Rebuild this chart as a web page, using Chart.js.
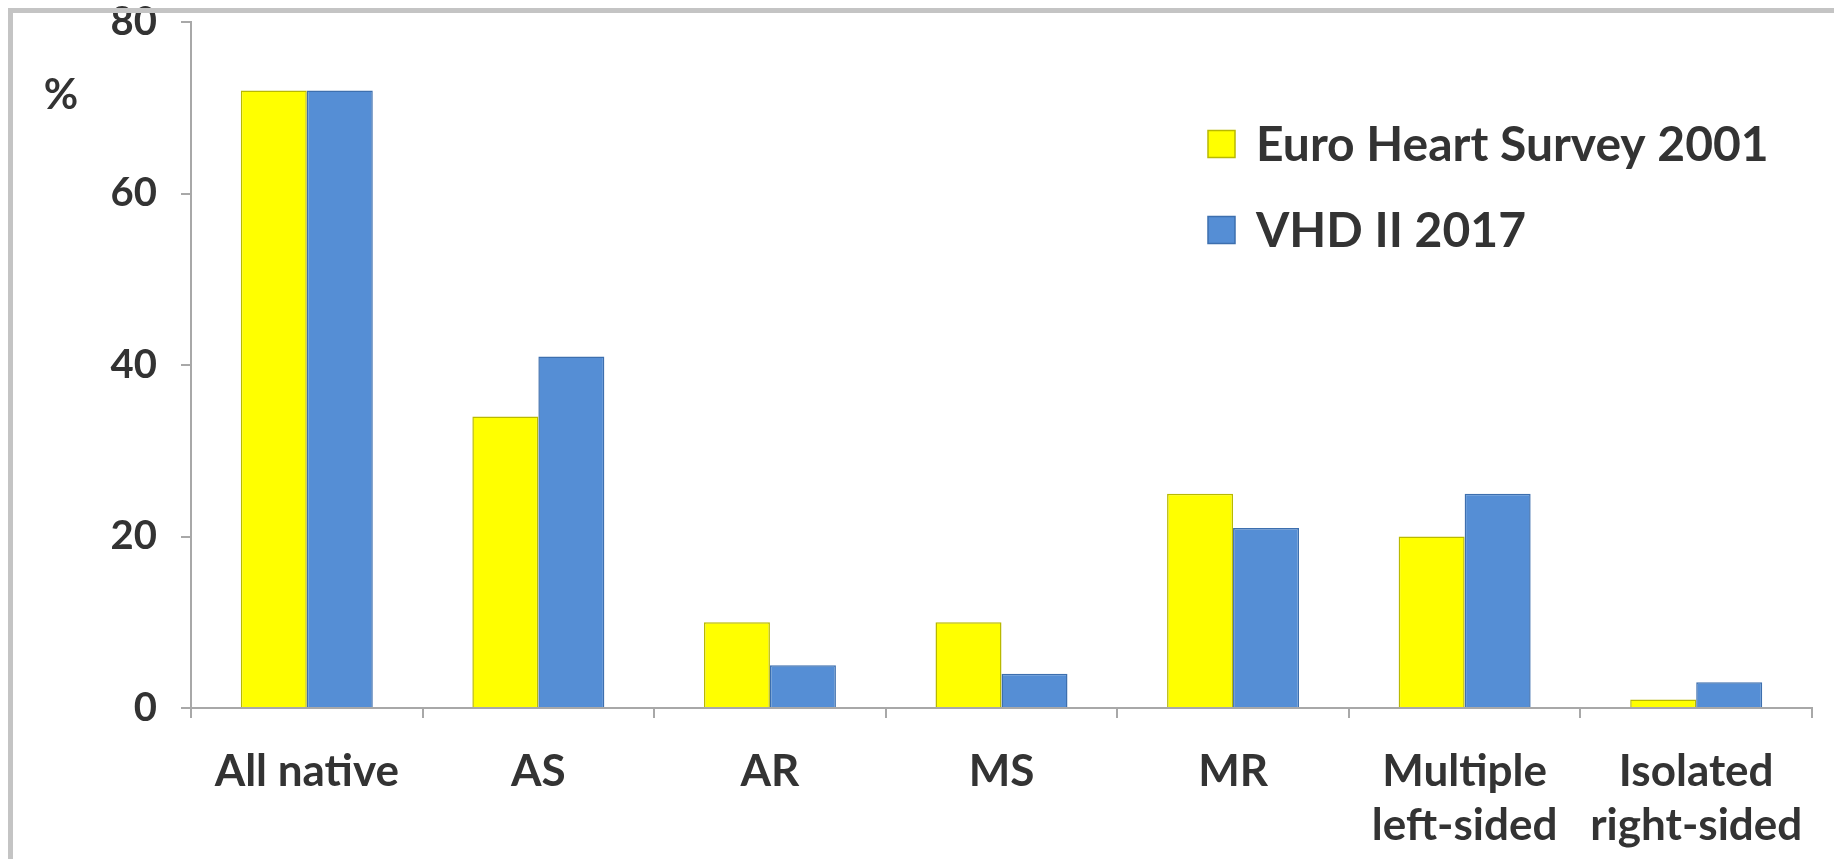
<!DOCTYPE html>
<html lang="en">
<head>
    <meta charset="UTF-8">
    <title>Valve disease distribution</title>
    <script src="https://cdn.jsdelivr.net/npm/chart.js"></script>
    <style>
        html, body { margin: 0; padding: 0; background: #fff; }
        #wrap { position: relative; width: 1834px; height: 859px; overflow: hidden; }
        #valveChart { position: absolute; left: 0; top: 0; }
        #frame {
            position: absolute; left: 8px; top: 8px; width: 1900px; height: 846px;
            border-left: 5px solid #c4c4c4; border-top: 5px solid #c4c4c4; border-bottom: 5px solid #c4c4c4;
            pointer-events: none;
        }
    </style>
</head>
<body>
    <div id="wrap">
        <canvas id="valveChart" width="1834" height="859"></canvas>
        <div id="frame"></div>
    </div>
    <script>
        const categories = ['All native', 'AS', 'AR', 'MS', 'MR', ['Multiple', 'left-sided'], ['Isolated', 'right-sided']];
        const euroHeart2001 = [72, 34, 10, 10, 25, 20, 1];
        const vhd2017 = [72, 41, 5, 4, 21, 25, 3];
        const yTicks = [0, 20, 40, 60, 80];

        const textColor = '#333';
        const axisColor = '#a8a8a8';
        const fontFamily = 'Lato, sans-serif';

        // legend and "%" label are painted inside the plot area
        const overlayText = {
            id: 'overlayText',
            afterDraw(chart) {
                const ctx = chart.ctx;
                ctx.save();
                ctx.fillStyle = textColor;
                ctx.font = 'bold 42px ' + fontFamily;
                ctx.textAlign = 'center';
                ctx.textBaseline = 'middle';
                ctx.fillText('%', 61, 95);

                const lx = 1208, ly = 144, gap = 86, box = 27;
                ctx.font = 'bold 48px ' + fontFamily;
                ctx.textAlign = 'left';
                chart.data.datasets.forEach((ds, i) => {
                    const y = ly + i * gap;
                    ctx.fillStyle = ds.backgroundColor;
                    ctx.fillRect(lx, y - box / 2, box, box);
                    ctx.strokeStyle = ds.borderColor;
                    ctx.lineWidth = 1.5;
                    ctx.strokeRect(lx, y - box / 2, box, box);
                    ctx.fillStyle = textColor;
                    ctx.fillText(ds.label, lx + 48, y + 2);
                });
                ctx.restore();
            }
        };

        const ctx = document.getElementById('valveChart').getContext('2d');
        new Chart(ctx, {
            type: 'bar',
            data: {
                labels: categories,
                datasets: [{
                    label: 'Euro Heart Survey 2001',
                    data: euroHeart2001,
                    backgroundColor: '#ffff00',
                    borderColor: '#b9b900',
                    borderWidth: 1.5
                }, {
                    label: 'VHD II 2017',
                    data: vhd2017,
                    backgroundColor: '#558ed5',
                    borderColor: '#3d6fae',
                    borderWidth: 1.5
                }]
            },
            options: {
                responsive: false,
                devicePixelRatio: 1,
                animation: false,
                layout: { padding: { top: 22, right: 22, left: 0, bottom: 0 } },
                datasets: { bar: { barPercentage: 1, categoryPercentage: 0.57 } },
                plugins: {
                    legend: { display: false },
                    tooltip: { enabled: false }
                },
                scales: {
                    x: {
                        grid: { offset: true, drawOnChartArea: false, tickLength: 10, color: axisColor, lineWidth: 2 },
                        border: { color: axisColor, width: 2 },
                        ticks: {
                            color: textColor,
                            padding: 27,
                            maxRotation: 0,
                            autoSkip: false,
                            font: { family: fontFamily, size: 44, weight: 'bold', lineHeight: 1.22 }
                        },
                        afterFit(scale) { scale.height = 151; }
                    },
                    y: {
                        min: 0,
                        max: 80,
                        afterBuildTicks(scale) { scale.ticks = yTicks.map(v => ({ value: v })); },
                        grid: { drawOnChartArea: false, tickLength: 10, color: axisColor, lineWidth: 2 },
                        border: { color: axisColor, width: 2 },
                        ticks: {
                            color: textColor,
                            padding: 24,
                            font: { family: fontFamily, size: 40, weight: 'bold' }
                        },
                        // top label is allowed to run up under the frame
                        afterFit(scale) {
                            scale.width = 191;
                            scale.paddingTop = 0;
                            scale.paddingBottom = 0;
                        }
                    }
                }
            },
            plugins: [overlayText]
        });
    </script>
</body>
</html>
